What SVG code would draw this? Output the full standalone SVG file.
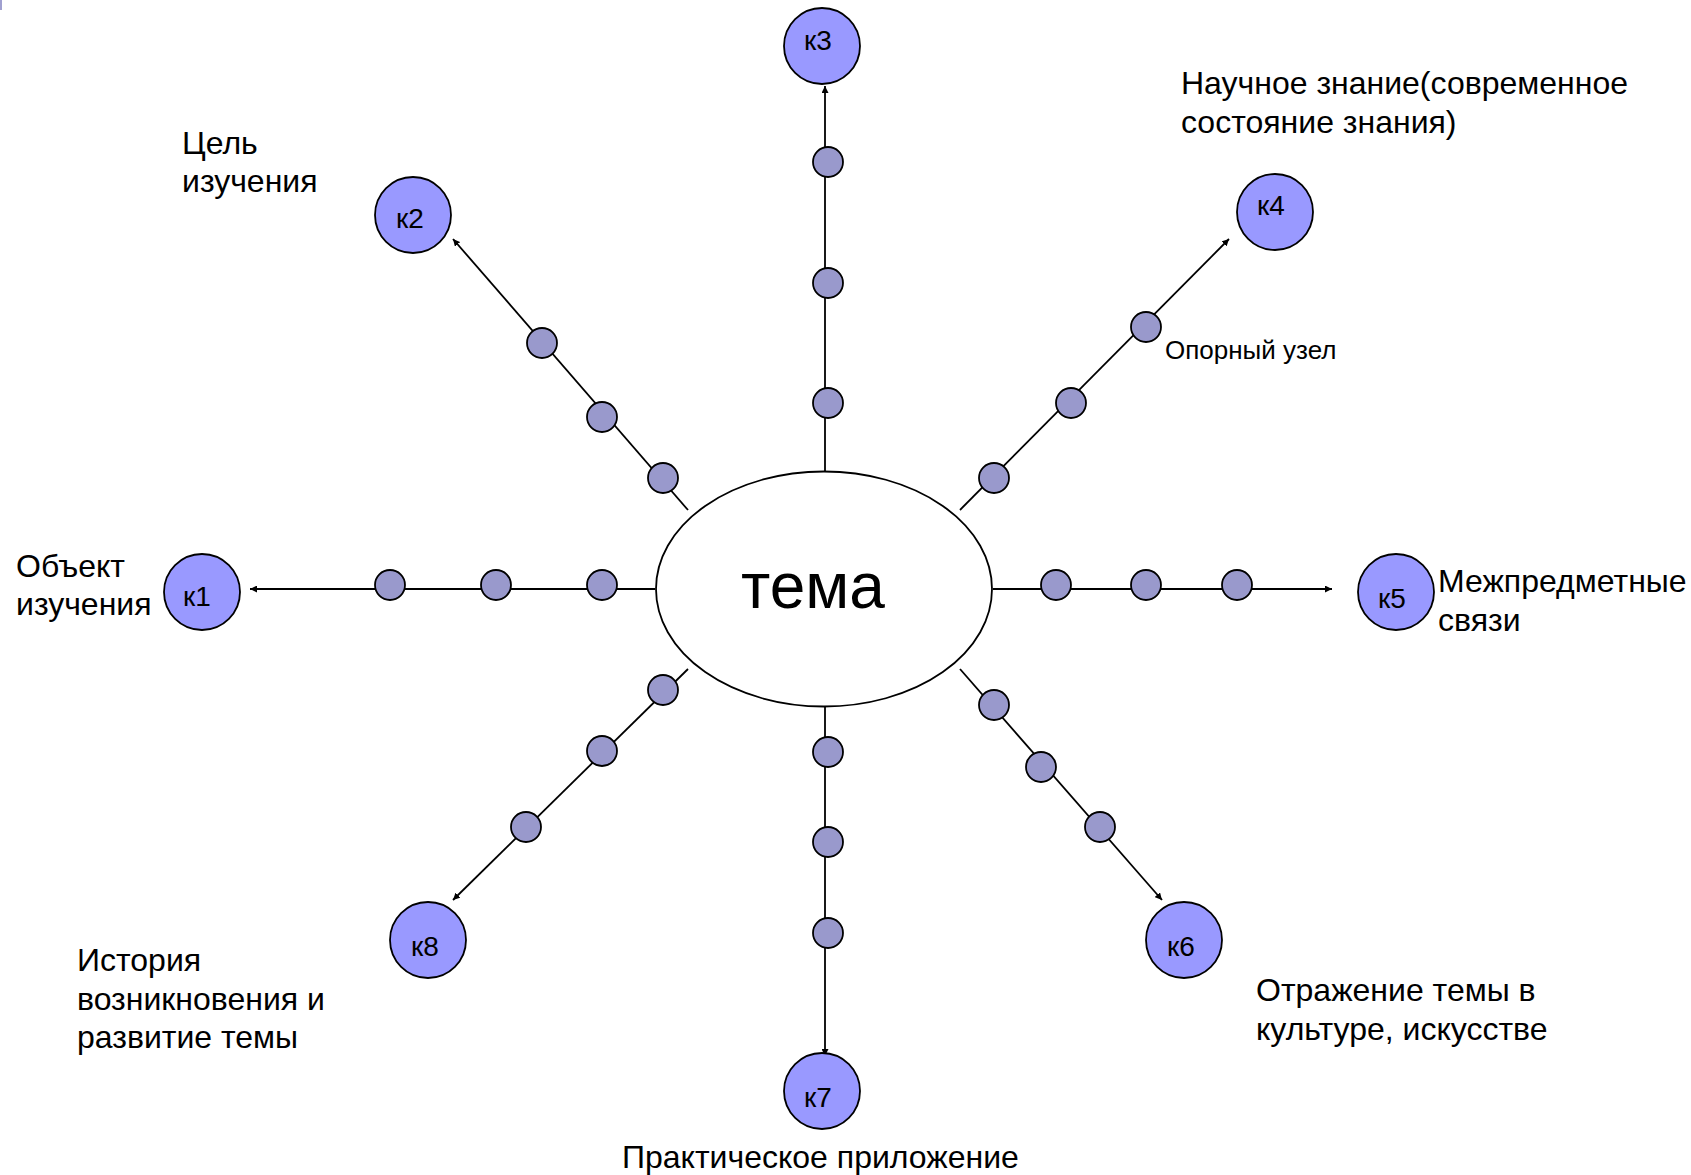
<svg xmlns="http://www.w3.org/2000/svg" width="1691" height="1175" viewBox="0 0 1691 1175">
<style>
.k{fill:#9999ff;stroke:#000;stroke-width:1.8}
.s{fill:#9999cc;stroke:#000;stroke-width:1.8}
.c{stroke:#000;stroke-width:1.8;fill:none}
text{font-family:"Liberation Sans",Arial,sans-serif;fill:#000}
.kl{font-size:28px;text-anchor:middle}
.lb{font-size:32px}
</style>
<defs>
<marker id="ar" viewBox="0 0 10 10" refX="10" refY="5" markerWidth="7" markerHeight="7" markerUnits="userSpaceOnUse" orient="auto"><path d="M0,0 L10,5 L0,10 z" fill="#000"/></marker>
</defs>
<rect x="0" y="0" width="2" height="10" fill="#a0a0d0"/>
<g id="connectors">
<line class="c" x1="825" y1="472" x2="825" y2="86" marker-end="url(#ar)"/>
<line class="c" x1="655" y1="589" x2="250" y2="589" marker-end="url(#ar)"/>
<line class="c" x1="993" y1="589" x2="1332" y2="589" marker-end="url(#ar)"/>
<line class="c" x1="825" y1="707" x2="825" y2="1056" marker-end="url(#ar)"/>
<line class="c" x1="688" y1="510" x2="453" y2="239" marker-end="url(#ar)"/>
<line class="c" x1="960" y1="510" x2="1229" y2="239" marker-end="url(#ar)"/>
<line class="c" x1="688" y1="669" x2="453" y2="900" marker-end="url(#ar)"/>
<line class="c" x1="960" y1="669" x2="1162" y2="900" marker-end="url(#ar)"/>
</g>
<g id="stops">
<circle class="s" cx="828" cy="162" r="15"/>
<circle class="s" cx="828" cy="283" r="15"/>
<circle class="s" cx="828" cy="403" r="15"/>
<circle class="s" cx="390" cy="585" r="15"/>
<circle class="s" cx="496" cy="585" r="15"/>
<circle class="s" cx="602" cy="585" r="15"/>
<circle class="s" cx="1056" cy="585" r="15"/>
<circle class="s" cx="1146" cy="585" r="15"/>
<circle class="s" cx="1237" cy="585" r="15"/>
<circle class="s" cx="828" cy="752" r="15"/>
<circle class="s" cx="828" cy="842" r="15"/>
<circle class="s" cx="828" cy="933" r="15"/>
<circle class="s" cx="663" cy="478" r="15"/>
<circle class="s" cx="602" cy="417" r="15"/>
<circle class="s" cx="542" cy="343" r="15"/>
<circle class="s" cx="994" cy="478" r="15"/>
<circle class="s" cx="1071" cy="403" r="15"/>
<circle class="s" cx="1146" cy="327" r="15"/>
<circle class="s" cx="663" cy="690" r="15"/>
<circle class="s" cx="602" cy="751" r="15"/>
<circle class="s" cx="526" cy="827" r="15"/>
<circle class="s" cx="994" cy="705" r="15"/>
<circle class="s" cx="1041" cy="767" r="15"/>
<circle class="s" cx="1100" cy="827" r="15"/>
</g>
<g id="tema">
<ellipse cx="824" cy="589" rx="168" ry="117.5" fill="#fff" stroke="#000" stroke-width="1.8"/>
<text x="813" y="608" font-size="64" text-anchor="middle">тема</text>
</g>
<g id="k1"><circle class="k" cx="202" cy="592" r="38"/><text class="kl" x="197" y="606">к1</text></g>
<g id="k2"><circle class="k" cx="413" cy="215" r="38"/><text class="kl" x="410" y="228">к2</text></g>
<g id="k3"><circle class="k" cx="822" cy="46" r="38"/><text class="kl" x="818" y="50">к3</text></g>
<g id="k4"><circle class="k" cx="1275" cy="212" r="38"/><text class="kl" x="1271" y="215">к4</text></g>
<g id="k5"><circle class="k" cx="1396" cy="592" r="38"/><text class="kl" x="1392" y="608">к5</text></g>
<g id="k6"><circle class="k" cx="1184" cy="940" r="38"/><text class="kl" x="1181" y="956">к6</text></g>
<g id="k7"><circle class="k" cx="822" cy="1091" r="38"/><text class="kl" x="818" y="1107">к7</text></g>
<g id="k8"><circle class="k" cx="428" cy="940" r="38"/><text class="kl" x="425" y="956">к8</text></g>
<g id="labels">
<text class="lb" x="182" y="154">Цель</text>
<text class="lb" x="182" y="192">изучения</text>
<text class="lb" x="1181" y="94">Научное знание(современное</text>
<text class="lb" x="1181" y="133">состояние знания)</text>
<text x="1165" y="359" font-size="26">Опорный узел</text>
<text class="lb" x="16" y="577">Объект</text>
<text class="lb" x="16" y="615">изучения</text>
<text class="lb" x="1438" y="592">Межпредметные</text>
<text class="lb" x="1438" y="631">связи</text>
<text class="lb" x="77" y="971">История</text>
<text class="lb" x="77" y="1010">возникновения и</text>
<text class="lb" x="77" y="1048">развитие темы</text>
<text class="lb" x="1256" y="1001">Отражение темы в</text>
<text class="lb" x="1256" y="1040">культуре, искусстве</text>
<text class="lb" x="622" y="1168">Практическое приложение</text>
</g>
</svg>
